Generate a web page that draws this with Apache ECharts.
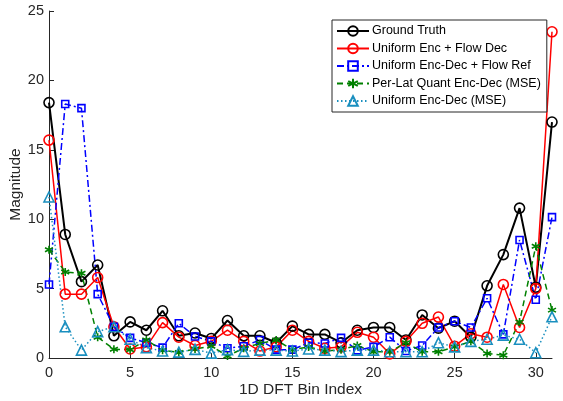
<!DOCTYPE html>
<html>
<head>
<meta charset="utf-8">
<script src="https://cdn.jsdelivr.net/npm/echarts@6/dist/echarts.min.js"></script>
<style>html,body{margin:0;padding:0;background:#fff}#c{width:563px;height:401px}</style>
</head>
<body>
<div id="c"></div>
<script>
const bins = Array.from({length: 32}, (_, i) => i);
const xTicks = [0, 5, 10, 15, 20, 25, 30];
const yTicks = [0, 5, 10, 15, 20, 25];

const groundTruth = [18.4, 8.9, 5.5, 6.7, 1.6, 2.6, 2.0, 3.4, 1.6, 1.8, 1.4, 2.7, 1.6, 1.6, 1.1, 2.3, 1.7, 1.7, 1.1, 2.0, 2.2, 2.2, 1.3, 3.1, 2.15, 2.65, 1.5, 5.2, 7.45, 10.8, 5.1, 17.0];
const uniformFlowDec = [15.7, 4.6, 4.6, 5.8, 2.25, 0.65, 0.8, 2.55, 1.5, 0.9, 1.2, 2.0, 1.2, 0.5, 0.8, 2.0, 1.2, 0.7, 0.8, 1.85, 1.5, 0.3, 1.2, 2.5, 2.95, 0.85, 1.75, 1.5, 5.3, 2.2, 5.0, 23.5];
const uniformFlowRef = [5.3, 18.3, 18.0, 4.6, 2.25, 1.45, 1.1, 0.75, 2.5, 1.55, 1.2, 0.7, 0.85, 1.3, 0.6, 0.6, 1.1, 1.05, 1.45, 0.55, 0.8, 1.5, 0.5, 0.9, 2.2, 2.65, 2.2, 4.3, 1.7, 8.5, 4.2, 10.15];
const perLatQuant = [7.8, 6.2, 6.1, 1.5, 0.63, 0.6, 1.3, 0.55, 0.4, 0.65, 0.85, 0.15, 0.7, 1.05, 1.3, 0.6, 0.8, 0.5, 0.6, 0.9, 0.45, 0.45, 1.1, 0.45, 0.45, 0.8, 1.2, 0.33, 0.2, 2.6, 8.05, 3.45];
const uniformMSE = [11.6, 2.25, 0.57, 1.9, 2.25, 1.35, 0.75, 0.5, 0.42, 0.62, 0.35, 0.6, 0.48, 0.57, 0.57, 0.5, 0.65, 0.57, 0.46, 0.57, 0.57, 0.45, 0.45, 0.45, 1.1, 0.8, 1.2, 1.35, 1.65, 1.35, 0.38, 2.97];

const seriesNames = ['Ground Truth', 'Uniform Enc + Flow Dec', 'Uniform Enc-Dec + Flow Ref', 'Per-Lat Quant Enc-Dec (MSE)', 'Uniform Enc-Dec (MSE)'];

const asterisk = 'path://M0,-10L0,10M-8.66,-5L8.66,5M-8.66,5L8.66,-5';
const FONT = "'Liberation Sans', Arial, Helvetica, sans-serif";

function mk(name, data, color, width, dash, symbol, size) {
  return {
    name: name,
    type: 'line',
    data: data.map((v, i) => [bins[i], v]),
    symbol: symbol,
    symbolSize: size,
    showAllSymbol: true,
    animation: false,
    lineStyle: {color: color, width: width, type: dash},
    itemStyle: {color: 'rgba(255,255,255,0)', borderColor: color, borderWidth: 1.6},
    emphasis: {disabled: true}
  };
}

const chart = echarts.init(document.getElementById('c'), null, {renderer: 'canvas'});
chart.setOption({
  backgroundColor: '#fff',
  animation: false,
  textStyle: {fontFamily: FONT},
  grid: {left: 49, right: 11, top: 11, bottom: 43, containLabel: false, outerBoundsMode: 'none'},
  legend: {
    orient: 'vertical',
    left: 332,
    top: 20,
    padding: [4.5, 6, 4.5, 4],
    itemWidth: 32,
    itemHeight: 12,
    itemGap: 4.5,
    backgroundColor: '#fff',
    borderColor: '#262626',
    borderWidth: 1,
    borderRadius: 0,
    selectedMode: false,
    textStyle: {fontFamily: FONT, fontSize: 12.5, color: '#000', lineHeight: 12, padding: [0, 0, 0, -2]},
    data: seriesNames
  },
  xAxis: {
    type: 'value',
    min: 0,
    max: 31,
    interval: 5,
    name: '1D DFT Bin Index',
    nameLocation: 'middle',
    nameGap: 23.5,
    nameMoveOverlap: false,
    nameTextStyle: {fontFamily: FONT, fontSize: 15.5, color: '#262626'},
    axisLine: {show: true, onZero: false, lineStyle: {color: '#262626', width: 1}},
    axisTick: {show: true, inside: true, length: 5, lineStyle: {color: '#262626'}, customValues: xTicks},
    axisLabel: {fontFamily: FONT, fontSize: 14.5, color: '#262626', margin: 7, customValues: xTicks},
    splitLine: {show: false}
  },
  yAxis: {
    type: 'value',
    min: 0,
    max: 25,
    interval: 5,
    name: 'Magnitude',
    nameLocation: 'middle',
    nameGap: 25,
    nameMoveOverlap: false,
    nameRotate: 90,
    nameTextStyle: {fontFamily: FONT, fontSize: 15.5, color: '#262626'},
    axisLine: {show: true, lineStyle: {color: '#262626', width: 1}},
    axisTick: {show: true, inside: true, length: 5, lineStyle: {color: '#262626'}, customValues: yTicks},
    axisLabel: {fontFamily: FONT, fontSize: 14.5, color: '#262626', margin: 5, customValues: yTicks},
    splitLine: {show: false}
  },
  series: [
    mk(seriesNames[0], groundTruth, '#000000', 2, 'solid', 'circle', 10),
    mk(seriesNames[1], uniformFlowDec, '#ff0000', 1.5, 'solid', 'circle', 10),
    mk(seriesNames[2], uniformFlowRef, '#0000ff', 1.5, [7, 3, 2, 3], 'rect', 7),
    mk(seriesNames[3], perLatQuant, '#008000', 1.5, [6, 4], asterisk, 8),
    mk(seriesNames[4], uniformMSE, '#1a8fbf', 1.5, [1.5, 2.5], 'triangle', 10)
  ]
});
</script>
</body>
</html>
